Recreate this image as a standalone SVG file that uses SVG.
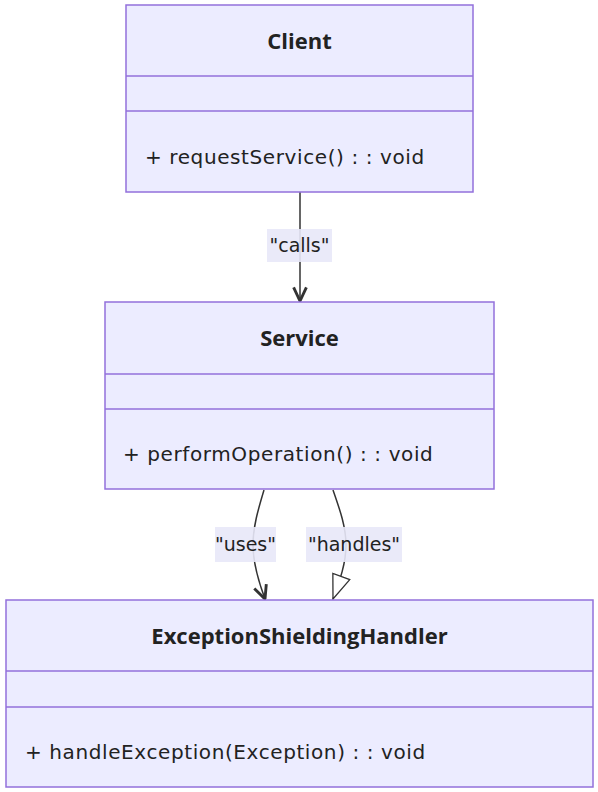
<svg xmlns="http://www.w3.org/2000/svg" width="598" height="792" viewBox="0 0 598 792">
<style>
.box{fill:#ECECFF;stroke:#9370DB;stroke-width:1.5}
.div{stroke:#9370DB;stroke-width:1.5}
.t{font-family:"DejaVu Sans","Liberation Sans",sans-serif;font-size:19px;fill:#222}
.m{font-size:20px;letter-spacing:0.6px}
.title{font-family:"Open Sans","Liberation Sans",sans-serif;font-size:22px;font-weight:bold;text-anchor:middle}
.edge{fill:none;stroke:#333;stroke-width:1.5}
.lbg{fill:#E8E8F8;opacity:0.9}
.lbl{text-anchor:middle}
</style>
<defs>
<marker id="arrow" viewBox="0 0 10 10" refX="9.5" refY="5" markerUnits="userSpaceOnUse" markerWidth="16" markerHeight="16" orient="auto">
<path d="M1,1 L9.5,5 L1,9" fill="none" stroke="#333" stroke-width="1.8"/>
</marker>
<marker id="tri" viewBox="0 0 26 20" refX="25" refY="10" markerUnits="userSpaceOnUse" markerWidth="26" markerHeight="20" orient="auto">
<path d="M1,1 L25,10 L1,19 Z" fill="#fff" stroke="#333" stroke-width="1.3"/>
</marker>
</defs>
<rect width="598" height="792" fill="#fff"/>
<g id="connectors">
<g id="edge-calls">
<path class="edge" d="M300,192 L300,301" marker-end="url(#arrow)"/>
<rect class="lbg" x="267" y="229" width="65" height="33"/>
<text class="t lbl" x="299.5" y="252">"calls"</text>
</g>
<g id="edge-uses">
<path class="edge" d="M264,490 C258,510 253,527 253,545 C253,563 258,580 265,599" marker-end="url(#arrow)"/>
<rect class="lbg" x="215" y="527" width="61" height="35"/>
<text class="t lbl" x="245.5" y="551">"uses"</text>
</g>
<g id="edge-handles">
<path class="edge" d="M333,490 C340,510 346,527 346,545 C346,563 340,580 333,599" marker-end="url(#tri)"/>
<rect class="lbg" x="306" y="527" width="96" height="35"/>
<text class="t lbl" x="354" y="551">"handles"</text>
</g>
</g>
<g id="Client">
<rect class="box" x="126" y="5" width="347" height="187"/>
<line class="div" x1="126" y1="76" x2="473" y2="76"/>
<line class="div" x1="126" y1="111" x2="473" y2="111"/>
<text class="t title" x="299.5" y="49">Client</text>
<text class="t m" x="145" y="164">+ requestService() : : void</text>
</g>
<g id="Service">
<rect class="box" x="105" y="302" width="389" height="187"/>
<line class="div" x1="105" y1="374" x2="494" y2="374"/>
<line class="div" x1="105" y1="409" x2="494" y2="409"/>
<text class="t title" x="299.5" y="346">Service</text>
<text class="t m" x="123" y="461">+ performOperation() : : void</text>
</g>
<g id="ExceptionShieldingHandler">
<rect class="box" x="6" y="600" width="587" height="187"/>
<line class="div" x1="6" y1="671" x2="593" y2="671"/>
<line class="div" x1="6" y1="707" x2="593" y2="707"/>
<text class="t title" x="299.5" y="644">ExceptionShieldingHandler</text>
<text class="t m" x="25" y="759">+ handleException(Exception) : : void</text>
</g>
</svg>
